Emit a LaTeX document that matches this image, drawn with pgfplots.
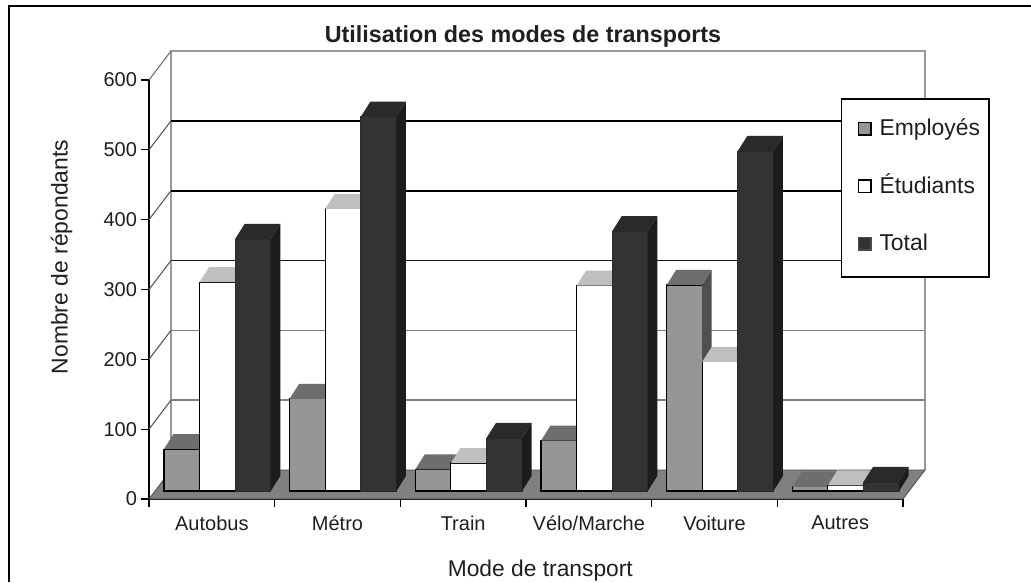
\documentclass[border=0pt]{standalone}
\usepackage{fontspec}
\setmainfont{Liberation Sans}
\usepackage{pgfplots}
\usepackage{pgfplotstable}
\pgfplotsset{compat=1.18}
\definecolor{empF}{gray}{0.59}
\definecolor{empT}{gray}{0.43}
\definecolor{empS}{gray}{0.31}
\definecolor{etuT}{gray}{0.75}
\definecolor{etuS}{gray}{0.5}
\definecolor{totF}{gray}{0.2}
\definecolor{totT}{gray}{0.165}
\definecolor{totS}{gray}{0.11}
\definecolor{floorC}{gray}{0.5}
\definecolor{wallC}{gray}{0.6}
\definecolor{txtC}{gray}{0.12}
\pgfplotstableread{
pos   emp etu tot
0.544  60 299 361
1.544 132 404 536
2.544  31  40  76
3.544  72 294 372
4.544 295 185 487
5.544   6   8  13
}\datatable
\def\bw{0.2833}
\def\ddx{0.0756}
\def\ddy{21.5}
\def\bbase{11.46}
\def\wx{0.175}
\def\wy{41.5}
\newcommand\faces[4]{%
  \pgfplotsforeachungrouped \k in {0,...,5}{%
    \pgfplotstablegetelem{\k}{#1}\of\datatable \let\vv\pgfplotsretval
    \pgfplotstablegetelem{\k}{pos}\of\datatable \let\pp\pgfplotsretval
    \pgfmathsetmacro\xl{\pp+(#2)*\bw-\bw/2}
    \pgfmathsetmacro\xr{\xl+\bw}
    \pgfmathsetmacro\xlb{\xl+\ddx}
    \pgfmathsetmacro\xrb{\xr+\ddx}
    \pgfmathsetmacro\yf{\vv+\bbase}
    \pgfmathsetmacro\yb{\yf+\ddy}
    \pgfmathsetmacro\ybb{\bbase+\ddy}
    \addplot[fill=#3,draw=none,forget plot] coordinates {(\xl,\yf)(\xr,\yf)(\xrb,\yb)(\xlb,\yb)(\xl,\yf)};
    \addplot[fill=#4,draw=none,forget plot] coordinates {(\xr,\yf)(\xrb,\yb)(\xrb,\ybb)(\xr,\bbase)(\xr,\yf)};
  }%
}
\newcommand\wallline[2]{%
  \pgfmathsetmacro\yy{#1+\wy}
  \pgfmathsetmacro\xxr{6+\wx}
  \addplot[#2,line width=1.7pt,forget plot] coordinates {(\wx,\yy)(\xxr,\yy)};
  \addplot[black!65,line width=1.1pt,forget plot] coordinates {(0,#1)(\wx,\yy)};
}
\begin{document}
\begin{tikzpicture}[x=1pt,y=1pt]
\path[use as bounding box] (0,0) rectangle (1031,582);
\fill[white] (0,0) rectangle (1031,582);
\draw[black,line width=2.4pt] (8.7,0) -- (8.7,576) -- (1031,576);
\begin{axis}[
  at={(149pt,83pt)}, anchor=south west,
  scale only axis, width=754pt, height=419pt,
  xmin=0, xmax=6, ymin=0, ymax=600,
  clip=false,
  axis lines=left,
  axis line style={-,black,line width=1.2pt},
  tick style={black,line width=1.2pt},
  tick align=outside,
  major tick length=8pt,
  xtick={0,1,2,3,4,5,6},
  x tick label as interval,
  xticklabels={Autobus,Métro,Train,Vélo/Marche,Voiture,Autres},
  ytick={0,100,200,300,400,500,600},
  /pgf/number format/assume math mode=true,
  tick label style={font=\fontsize{20}{20}\selectfont,text=txtC},
  xticklabel style={yshift=-5pt},
  yticklabel style={xshift=-0.5pt},
  title={\fontsize{23.3}{23}\selectfont\bfseries Utilisation des modes de transports},
  title style={at={(axis description cs:0.496,1.0905)},anchor=center,text=txtC},
  xlabel={Mode de transport},
  xlabel style={at={(axis description cs:0.519,-0.17)},anchor=center,font=\fontsize{22.8}{23}\selectfont,text=txtC},
  ylabel={Nombre de répondants},
  ylabel style={at={(axis description cs:-0.116,0.5776)},anchor=center,rotate=0,font=\fontsize{22.9}{23}\selectfont,text=txtC},
  legend cell align=left,
  legend style={
    at={(axis description cs:0.9174,0.9563)},anchor=north west,
    draw=black,line width=1.5pt,fill=white,
    inner xsep=9pt,inner ysep=21.5pt,
    row sep=37.5pt,
    font=\fontsize{22.9}{23}\selectfont,
    nodes={inner sep=0pt,text height=15pt,text depth=5pt,text=txtC},
    /tikz/every odd column/.append style={column sep=8pt},
  },
  legend image code/.code={%
    \path (0,0);
    \draw[#1,line width=1.2pt] (7pt,-4.5pt) rectangle (19.7pt,8pt);
  },
]
% walls
\addplot[wallC,line width=1.5pt,forget plot] coordinates {(0.175,41.5)(0.175,641.5)(6.175,641.5)(6.175,41.5)};
\addplot[black!55,line width=1.1pt,forget plot] coordinates {(0,600)(0.175,641.5)};
\wallline{100}{black!50}
\wallline{200}{black!50}
\wallline{300}{black!90}
\wallline{400}{black}
\wallline{500}{black}
% floor
\addplot[fill=floorC,draw=black!70,line width=0.8pt,forget plot] coordinates {(0,0)(6,0)(6.175,41.5)(0.175,41.5)(0,0)};
% Employés
\addplot[ybar,bar width=35.6pt,bar shift=-35.6pt,yshift=8pt,fill=empF,draw=black,line width=1.2pt,forget plot] table[x=pos,y=emp]{\datatable};
\faces{emp}{-1}{empT}{empS}
% Étudiants
\addplot[ybar,bar width=35.6pt,bar shift=0pt,yshift=8pt,fill=white,draw=black,line width=1.2pt,forget plot] table[x=pos,y=etu]{\datatable};
\faces{etu}{0}{etuT}{etuS}
% Total
\addplot[ybar,bar width=35.6pt,bar shift=35.6pt,yshift=8pt,fill=totF,draw=totF!80!black,line width=0.8pt,forget plot] table[x=pos,y=tot]{\datatable};
\faces{tot}{1}{totT}{totS}
\addlegendimage{draw=black,fill=empF}
\addlegendentry{Employés}
\addlegendimage{draw=black,fill=white}
\addlegendentry{Étudiants}
\addlegendimage{draw=black!70,fill=totF}
\addlegendentry{Total}
\end{axis}
\end{tikzpicture}
\end{document}
